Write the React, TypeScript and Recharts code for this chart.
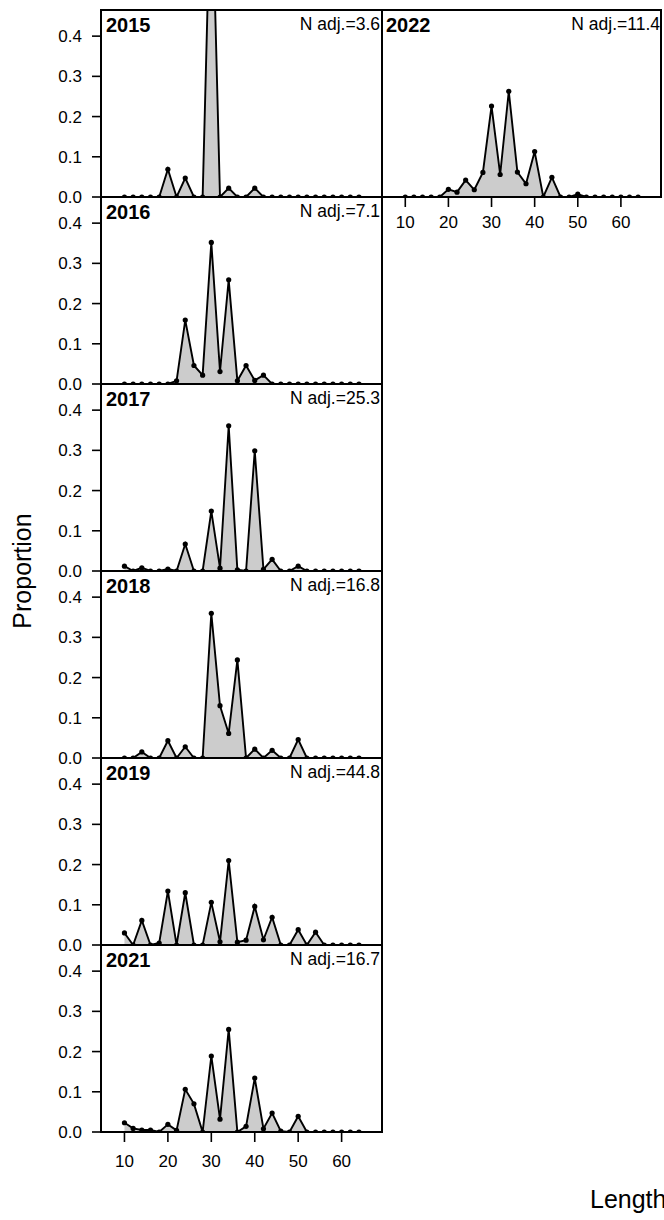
import React from 'react';
import { Area, AreaChart, XAxis, YAxis } from 'recharts';

// length bins (cm)
const lengthBins = [10, 12, 14, 16, 18, 20, 22, 24, 26, 28, 30, 32, 34, 36, 38, 40, 42, 44, 46, 48, 50, 52, 54, 56, 58, 60, 62, 64];
const xTicks = [10, 20, 30, 40, 50, 60];
const yTicks = [0, 0.1, 0.2, 0.3, 0.4];

const years = ['2015', '2016', '2017', '2018', '2019', '2021', '2022'];
const nAdj = ['3.6', '7.1', '25.3', '16.8', '44.8', '16.7', '11.4'];

const p2015 = [0, 0, 0, 0, 0, 0.069, 0, 0.047, 0, 0, 0.84, 0, 0.022, 0, 0, 0.022, 0, 0, 0, 0, 0, 0, 0, 0, 0, 0, 0, 0];
const p2016 = [0, 0, 0, 0, 0, 0, 0.008, 0.159, 0.046, 0.022, 0.352, 0.031, 0.259, 0.008, 0.046, 0.009, 0.022, 0, 0, 0, 0, 0, 0, 0, 0, 0, 0, 0];
const p2017 = [0.012, 0, 0.008, 0, 0, 0.005, 0, 0.067, 0, 0, 0.149, 0.007, 0.361, 0.003, 0, 0.299, 0.004, 0.029, 0, 0, 0.012, 0, 0, 0, 0, 0, 0, 0];
const p2018 = [0, 0, 0.015, 0, 0, 0.043, 0, 0.028, 0, 0, 0.36, 0.13, 0.061, 0.244, 0, 0.022, 0, 0.019, 0, 0, 0.046, 0, 0, 0, 0, 0, 0, 0];
const p2019 = [0.03, 0, 0.061, 0, 0.005, 0.134, 0, 0.13, 0, 0, 0.106, 0.008, 0.21, 0.007, 0.012, 0.096, 0.013, 0.069, 0, 0, 0.038, 0, 0.032, 0, 0, 0, 0, 0];
const p2021 = [0.023, 0.009, 0.005, 0.005, 0, 0.019, 0.004, 0.106, 0.07, 0, 0.189, 0.032, 0.255, 0, 0.014, 0.134, 0.008, 0.047, 0.002, 0, 0.039, 0, 0, 0, 0, 0, 0, 0];
const p2022 = [0, 0, 0, 0, 0, 0.019, 0.012, 0.042, 0.018, 0.061, 0.226, 0.056, 0.263, 0.062, 0.033, 0.113, 0, 0.049, 0, 0, 0.007, 0, 0, 0, 0, 0, 0, 0];

const series = [p2015, p2016, p2017, p2018, p2019, p2021, p2022];

const FONT = '"Liberation Sans", Arial, sans-serif';
const PANEL_H = 187;
const TOP = 10;
const PAD = 12;

interface PanelProps {
  idx: number;
  left: number;
  top: number;
  plotWidth: number;
  yAxisWidth: number;
  showX: boolean;
  showY: boolean;
  xTickMargin: number;
}

function Panel({ idx, left, top, plotWidth, yAxisWidth, showX, showY, xTickMargin }: PanelProps) {
  const data = lengthBins.map((len, i) => ({ len, p: series[idx][i] }));
  const xAxisH = showX ? 45 : 0;
  const width = plotWidth + yAxisWidth;
  const height = PANEL_H + PAD + (showX ? xAxisH : PAD);
  const tickStyle = { fill: '#000', fontSize: 17, fontFamily: FONT };
  return (
    <>
      <div style={{ position: 'absolute', left: left - yAxisWidth, top: top - PAD, width, height }}>
        <AreaChart
          width={width}
          height={height}
          data={data}
          margin={{ top: PAD, right: 0, left: 0, bottom: showX ? 0 : PAD }}
        >
          <XAxis
            type="number"
            dataKey="len"
            domain={[4.6, 69.3]}
            ticks={xTicks}
            allowDataOverflow
            hide={!showX}
            height={xAxisH}
            axisLine={false}
            tickSize={10}
            tickMargin={xTickMargin}
            tickLine={{ stroke: '#000', strokeWidth: 1.6 }}
            tick={tickStyle}
          />
          <YAxis
            type="number"
            domain={[0, 0.465]}
            ticks={yTicks}
            allowDataOverflow
            hide={!showY}
            width={yAxisWidth}
            axisLine={false}
            tickSize={9}
            tickMargin={10}
            tickLine={{ stroke: '#000', strokeWidth: 1.6 }}
            tick={tickStyle}
            tickFormatter={(v: number) => v.toFixed(1)}
          />
          <Area
            type="linear"
            dataKey="p"
            stroke="#000"
            strokeWidth={1.9}
            fill="#cccccc"
            fillOpacity={1}
            dot={{ r: 2.6, fill: '#000', stroke: '#000', strokeWidth: 0 }}
            activeDot={false}
            isAnimationActive={false}
          />
        </AreaChart>
      </div>
      <div
        style={{
          position: 'absolute',
          left: left - 1,
          top: top - 1,
          width: plotWidth + 2,
          height: PANEL_H + 2,
          border: '2px solid #000',
          boxSizing: 'border-box',
          pointerEvents: 'none',
        }}
      />
    </>
  );
}

export default function App() {
  const leftPanels = [0, 1, 2, 3, 4, 5];
  return (
    <div
      style={{
        position: 'absolute',
        left: 0,
        top: 0,
        width: 664,
        height: 1220,
        overflow: 'hidden',
        background: '#fff',
        fontFamily: FONT,
      }}
    >
      {leftPanels.map((i) => (
        <Panel
          key={years[i]}
          idx={i}
          left={101}
          top={TOP + i * PANEL_H}
          plotWidth={281}
          yAxisWidth={101}
          showX={i === 5}
          showY
          xTickMargin={13}
        />
      ))}
      <Panel idx={6} left={382} top={TOP} plotWidth={279} yAxisWidth={0} showX showY={false} xTickMargin={9} />

      <svg width={664} height={1220} style={{ position: 'absolute', left: 0, top: 0, pointerEvents: 'none' }}>
        {leftPanels.map((i) => (
          <g key={years[i]}>
            <text x={106} y={TOP + i * PANEL_H + 22} fontFamily={FONT} fontSize={20} fontWeight="bold" fill="#000">
              {years[i]}
            </text>
            <text x={380} y={TOP + i * PANEL_H + 19.5} fontFamily={FONT} fontSize={17.5} textAnchor="end" fill="#000">
              {`N adj.=${nAdj[i]}`}
            </text>
          </g>
        ))}
        <text x={386} y={TOP + 22} fontFamily={FONT} fontSize={20} fontWeight="bold" fill="#000">
          {years[6]}
        </text>
        <text x={660} y={TOP + 19.5} fontFamily={FONT} fontSize={17.5} textAnchor="end" fill="#000">
          {`N adj.=${nAdj[6]}`}
        </text>
        <text
          x={0}
          y={0}
          transform="translate(31 571) rotate(-90)"
          fontFamily={FONT}
          fontSize={25}
          textAnchor="middle"
          fill="#000"
        >
          Proportion
        </text>
        <text x={590} y={1208} fontFamily={FONT} fontSize={25} fill="#000">
          Length
        </text>
      </svg>
    </div>
  );
}
